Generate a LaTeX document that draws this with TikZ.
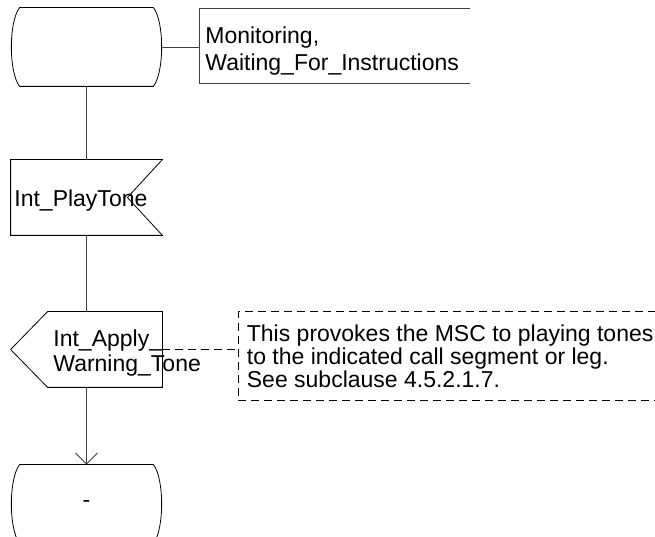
\documentclass[tikz,border=0pt]{standalone}
\usepackage{fontspec}
\setmainfont{Liberation Sans}
\usetikzlibrary{arrows.meta,positioning}

\tikzset{
  sdlbox/.style={inner sep=0pt, minimum width=151pt, minimum height=75pt},
  sdlstate/.style={sdlbox, minimum height=78pt},
  frame/.style={inner sep=0pt, anchor=west},
  lbl/.style={inner sep=0pt, anchor=base west, align=left},
  flow/.style={draw=black!75, line width=0.8pt},
  note/.style={dash pattern=on 8pt off 5pt}
}

\begin{document}
\begin{tikzpicture}[x=1pt, y=1pt, line width=0.8pt,
    font=\fontsize{23}{27.4}\selectfont]
  \useasboundingbox (0,0) rectangle (655,537);

  % symbols
  \node[sdlstate] (st1) at (86.5,490) {};
  \node[sdlbox] (in1) at (86.5,339.5) {};
  \node[sdlbox] (out1) at (86.5,187.5) {};
  \node[sdlstate] (st2) at (86.5,33) {-};

  % state outlines
  \foreach \s in {st1,st2}
    \draw ([xshift=9pt]\s.north west) -- ([xshift=-9pt]\s.north east)
      .. controls ([shift={(2pt,-14pt)}]\s.north east) and ([shift={(2pt,14pt)}]\s.south east) .. ([xshift=-9pt]\s.south east)
      -- ([xshift=9pt]\s.south west)
      .. controls ([shift={(-2pt,14pt)}]\s.south west) and ([shift={(-2pt,-14pt)}]\s.north west) .. cycle;
  % input signal
  \draw (in1.north west) -- (in1.north east) -- ([xshift=-35pt]in1.east)
    -- (in1.south east) -- (in1.south west) -- cycle;
  % output signal
  \draw (out1.north east) -- ([xshift=37pt]out1.north west) -- (out1.west)
    -- ([xshift=37pt]out1.south west) -- (out1.south east) -- cycle;

  % text extension
  \node[frame, minimum width=270pt, minimum height=75pt] (txt) at (199,491) {};
  \draw[flow] (txt.north east) -- (txt.north west) -- (txt.south west) -- (txt.south east);

  % comment
  \node[frame, minimum width=417pt, minimum height=88pt] (cmt) at (238,181) {};
  \draw[note] (cmt.north east) -- (cmt.north west) -- (cmt.south west) -- (cmt.south east);

  % labels
  \node[lbl] (txtlbl) at (205,466.3) {Monitoring,\\Waiting\_For\_Instructions};
  \node[lbl] (inlbl) at (14,330.3) {Int\_PlayTone};
  \node[lbl, font=\fontsize{23}{25}\selectfont] (outlbl) at (53,165.3) {Int\_Apply\_\\Warning\_Tone};
  \node[lbl, font=\fontsize{23}{23.2}\selectfont] (cmtlbl) at (246.5,149.3)
    {This provokes the MSC to playing tones\\to the indicated call segment or leg.\\See subclause 4.5.2.1.7.};

  % connectors
  \draw[flow] (st1.east) -- (st1.east -| txt.west);
  \draw[flow] (st1.south) -- (in1.north);
  \draw[flow] (in1.south) -- (out1.north);
  \draw[flow, -{Straight Barb[length=11pt, width=22pt]}] (out1.south) -- (st2.north);
  \draw[note] (out1.east) -- (out1.east -| cmt.west);
\end{tikzpicture}
\end{document}
